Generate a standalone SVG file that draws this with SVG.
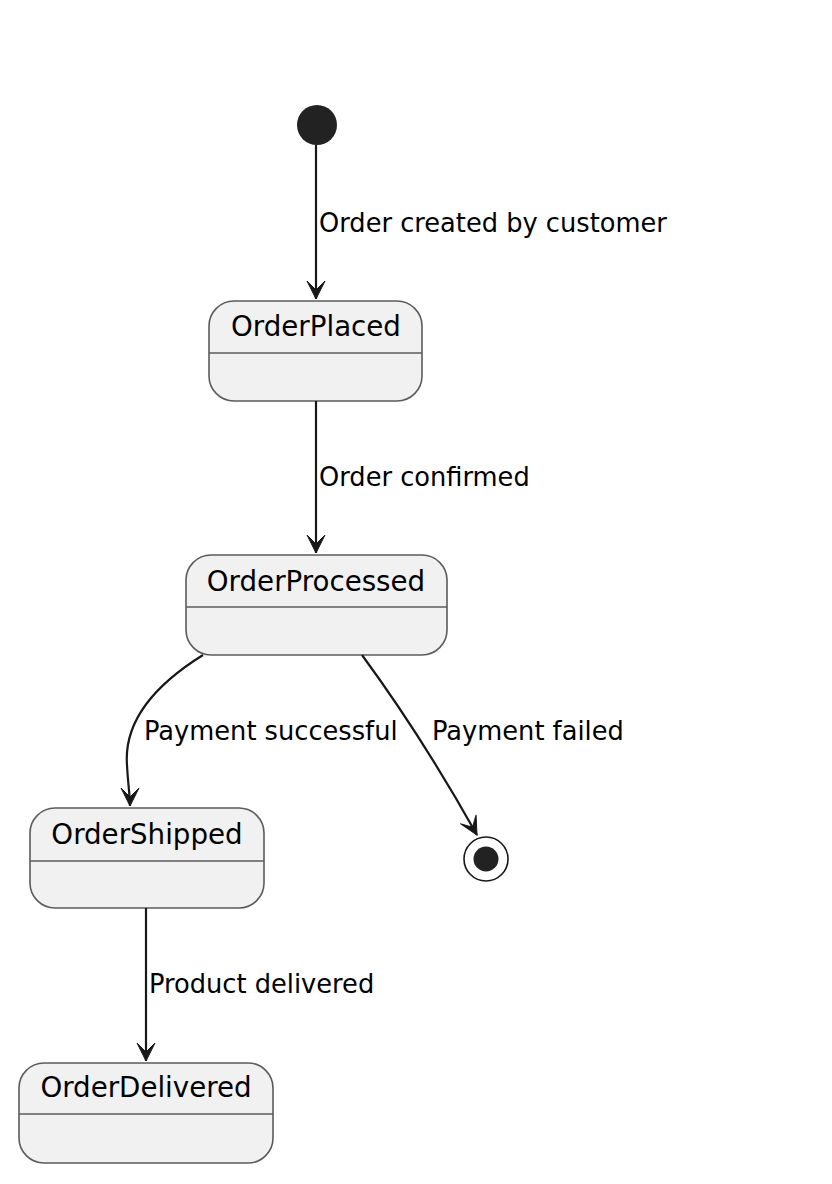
<svg xmlns="http://www.w3.org/2000/svg" width="832" height="1184" viewBox="0 0 832 1184">
<defs>
<style>
.st rect{fill:#F1F1F1;stroke:#5B5B5B;stroke-width:1.6}
.st line{stroke:#5B5B5B;stroke-width:1.6}
.st text{font-family:"DejaVu Sans",sans-serif;font-size:27.7px;fill:#000;text-anchor:middle}
.lbl{font-family:"DejaVu Sans",sans-serif;font-size:25.7px;fill:#000}
#connectors path{fill:none;stroke:#181818;stroke-width:2.2;marker-end:url(#arr)}
</style>
<marker id="arr" viewBox="-20 -11 22 22" markerWidth="22" markerHeight="22" refX="0" refY="0" orient="auto" markerUnits="userSpaceOnUse">
<path d="M-18,-9 L0,0 L-18,9 L-9,0 Z" fill="#181818" stroke="#181818" stroke-width="1" stroke-linejoin="miter"/>
</marker>
</defs>
<rect width="832" height="1184" fill="#FFFFFF"/>
<g id="start"><circle cx="317" cy="125" r="20" fill="#222222"/></g>
<g id="OrderPlaced" class="st"><rect x="209" y="301" width="213" height="100" rx="25"/><line x1="209" y1="353" x2="422" y2="353"/><text x="316" y="336">OrderPlaced</text></g>
<g id="OrderProcessed" class="st"><rect x="186" y="555" width="261" height="100" rx="25"/><line x1="186" y1="607" x2="447" y2="607"/><text x="316" y="591">OrderProcessed</text></g>
<g id="OrderShipped" class="st"><rect x="30" y="808" width="234" height="100" rx="25"/><line x1="30" y1="861" x2="264" y2="861"/><text x="147" y="844">OrderShipped</text></g>
<g id="OrderDelivered" class="st"><rect x="19" y="1063" width="254" height="100" rx="25"/><line x1="19" y1="1114" x2="273" y2="1114"/><text x="146" y="1097">OrderDelivered</text></g>
<g id="end"><circle cx="486" cy="859" r="22" fill="#FFFFFF" stroke="#181818" stroke-width="1.6"/><circle cx="486" cy="859" r="12.5" fill="#222222"/></g>
<g id="connectors">
<path d="M316,145 L316,299"/>
<path d="M316,401 L316,553"/>
<path d="M203,655 C150,688 124,725 127,765 C128,785 130,795 130,806"/>
<path d="M362,655 C395,700 435,760 477,835"/>
<path d="M146,908 L146,1061"/>
</g>
<g id="labels">
<text class="lbl" x="319" y="232">Order created by customer</text>
<text class="lbl" x="319" y="486">Order confirmed</text>
<text class="lbl" x="144" y="740">Payment successful</text>
<text class="lbl" x="432" y="740">Payment failed</text>
<text class="lbl" x="149" y="993">Product delivered</text>
</g>
</svg>
